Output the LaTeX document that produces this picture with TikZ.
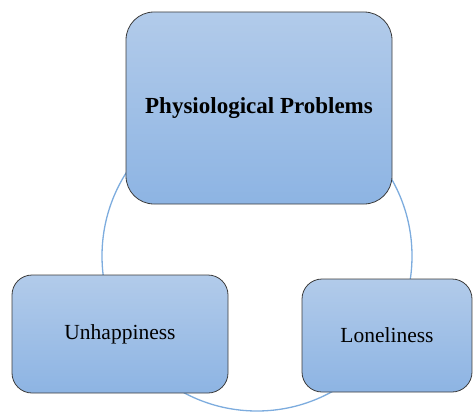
\documentclass[tikz,border=0pt]{standalone}
\usepackage{fontspec}
\setmainfont{Liberation Serif}
\usetikzlibrary{positioning,backgrounds}
\definecolor{boxtop}{RGB}{178,203,234}
\definecolor{boxbot}{RGB}{141,180,227}
\definecolor{ring}{RGB}{125,172,222}
\definecolor{edge}{RGB}{60,60,60}

\begin{document}
\begin{tikzpicture}[x=1pt, y=-1pt, line width=.8pt
  ]
% Block style
\tikzstyle{block}=[draw=edge, top color=boxtop, bottom color=boxbot, outer sep=0pt, align=center, font=\fontsize{21.5}{25}\selectfont, text=black]
\useasboundingbox (0,0) rectangle (473,412);
% Blocks
\node[block, rounded corners=28pt, minimum width=266pt, minimum height=192pt, font=\fontsize{23}{27}\selectfont\bfseries] (pp) at (259,108) {Physiological Problems};
\node[block, rounded corners=20pt, minimum width=216pt, minimum height=118pt] (un) at (120,334) {Unhappiness};
\node[block, rounded corners=20pt, minimum width=170pt, minimum height=113pt] (lo) at (387,335.5) {Loneliness};
% Cycle ring behind the blocks
\coordinate (c) at (257,256);
\begin{scope}[on background layer]
\draw[ring, line width=1.3pt] (c) circle (155);
\end{scope}
\end{tikzpicture}
\end{document}
